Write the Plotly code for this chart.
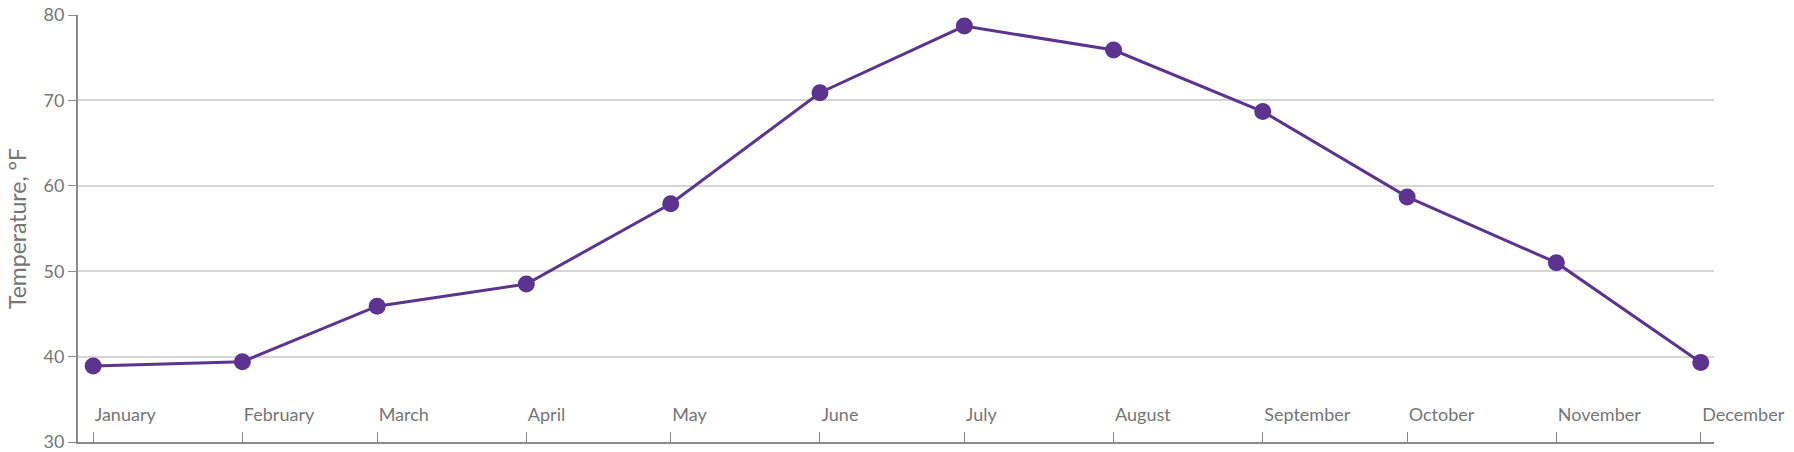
import plotly.graph_objects as go
import pandas as pd

months = ["January", "February", "March", "April", "May", "June",
          "July", "August", "September", "October", "November", "December"]
dates = ["2017-01-01", "2017-02-01", "2017-03-01", "2017-04-01", "2017-05-01", "2017-06-01",
         "2017-07-01", "2017-08-01", "2017-09-01", "2017-10-01", "2017-11-01", "2017-12-01"]
temperature = [38.9, 39.4, 45.9, 48.5, 57.9, 70.9, 78.7, 75.9, 68.7, 58.7, 51.0, 39.3]
y_ticks = [30, 40, 50, 60, 70, 80]

LINE_COLOR = "#5c3490"
TEXT_COLOR = "#767676"
AXIS_COLOR = "#8a8a8a"
GRID_COLOR = "#d6d6d6"
FONT = "Lato, 'Open Sans', sans-serif"

d = pd.to_datetime(dates)
x_range = [d[0] - pd.Timedelta(days=3.15), d[-1] + pd.Timedelta(days=2.75)]

fig = go.Figure()
fig.add_trace(go.Scatter(
    x=dates, y=temperature, mode="lines+markers",
    line=dict(color=LINE_COLOR, width=3),
    marker=dict(color=LINE_COLOR, size=17, line=dict(width=0)),
    showlegend=False,
))

fig.update_layout(
    width=1794, height=452,
    margin=dict(l=78, r=80, t=15, b=10),
    paper_bgcolor="white", plot_bgcolor="white",
    font=dict(family=FONT, color=TEXT_COLOR, size=18),
    xaxis=dict(
        type="date", range=x_range, automargin=False,
        tickmode="array", tickvals=dates, ticktext=months,
        ticks="inside", ticklen=10, tickwidth=1, tickcolor=AXIS_COLOR,
        ticklabelposition="outside right", ticklabelstandoff=-45,
        ticklabeloverflow="allow",
        showline=True, linecolor=AXIS_COLOR, linewidth=2,
        showgrid=False, zeroline=False,
        tickfont=dict(family=FONT, color=TEXT_COLOR, size=18),
    ),
    yaxis=dict(
        range=[30, 80], tickmode="array", tickvals=y_ticks, automargin=False,
        ticks="outside", ticklen=8, tickwidth=1, tickcolor=AXIS_COLOR,
        ticklabeloverflow="allow",
        showline=True, linecolor=AXIS_COLOR, linewidth=2,
        showgrid=True, gridcolor=GRID_COLOR, gridwidth=1.5,
        zeroline=False,
        tickfont=dict(family=FONT, color=TEXT_COLOR, size=18),
        title=dict(text="Temperature, °F",
                   font=dict(family=FONT, color=TEXT_COLOR, size=23),
                   standoff=10),
    ),
)

fig.write_html("out.html")
